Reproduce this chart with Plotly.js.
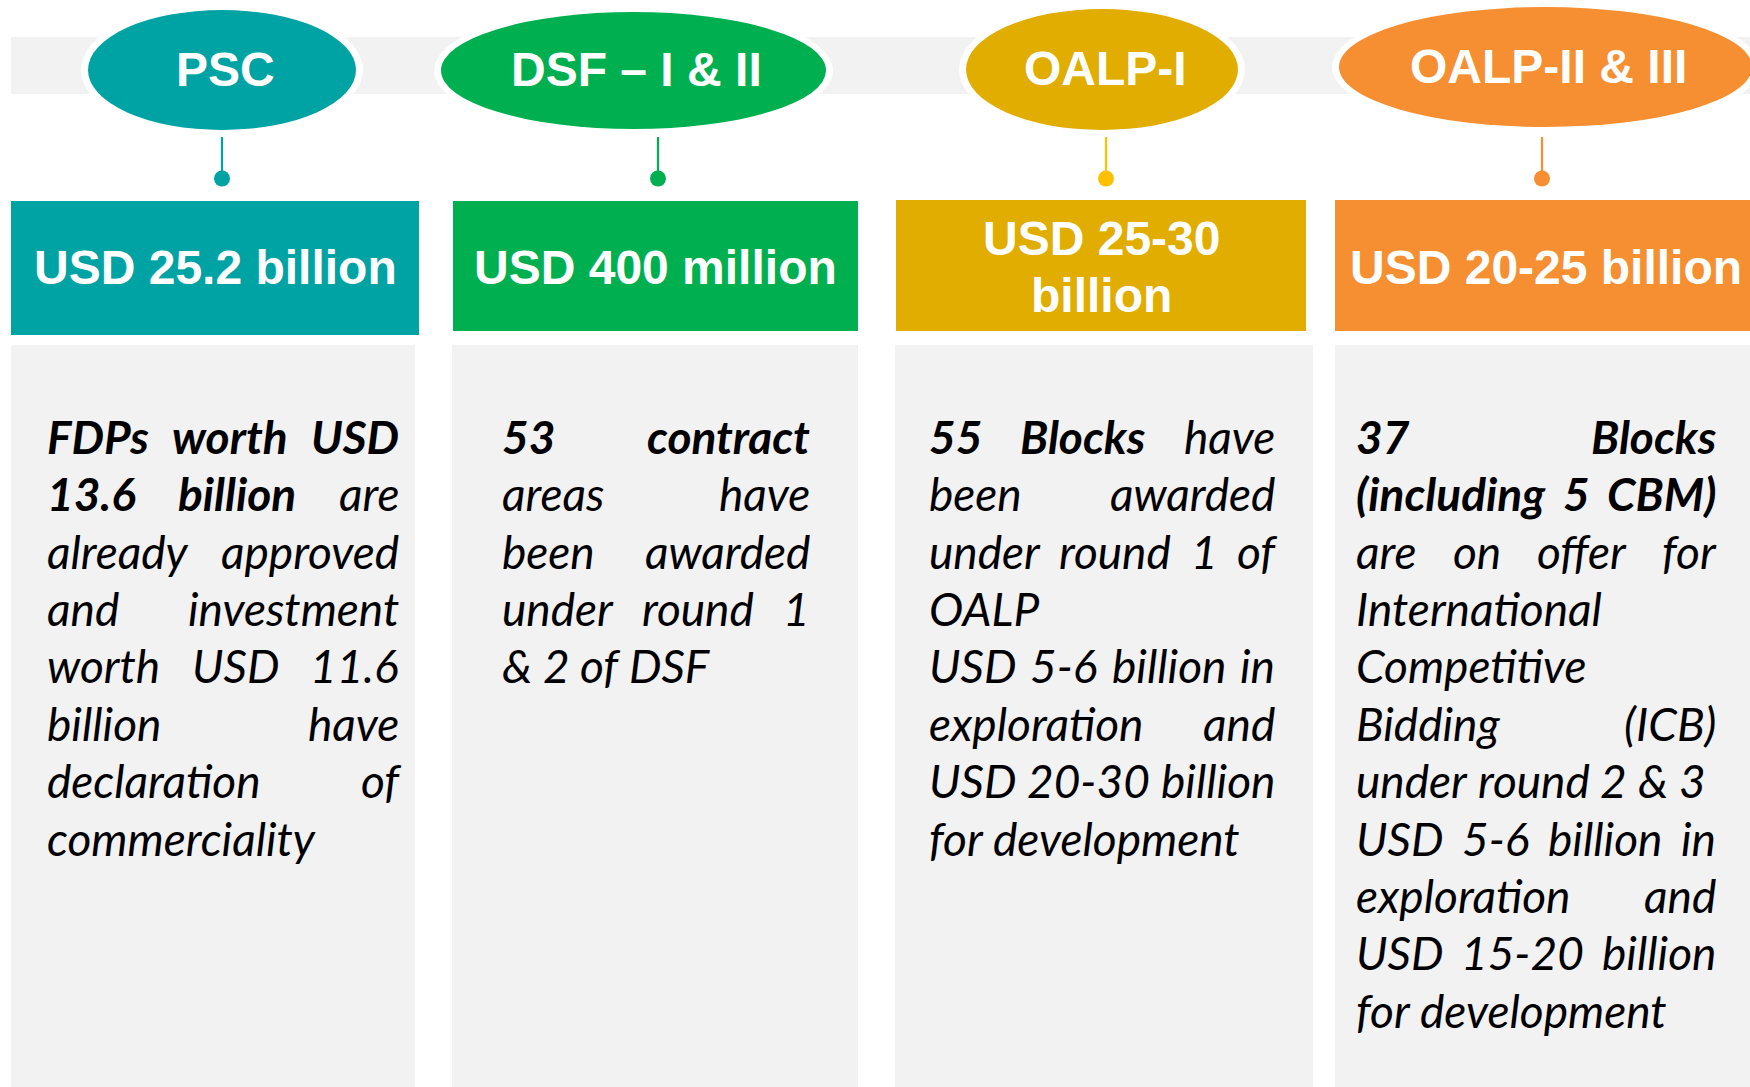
<!DOCTYPE html>
<html>
<head>
<meta charset="utf-8">
<script src="https://cdn.plot.ly/plotly-3.0.1.min.js"></script>
<style>html,body{margin:0;padding:0;background:#fff;}</style>
</head>
<body>
<div id="chart" style="width:1750px;height:1087px"></div>
<script>
// ---------- DATA ----------
const programs = ['PSC', 'DSF \u2013 I & II', 'OALP-I', 'OALP-II & III'];
const investments = ['USD 25.2 billion', 'USD 400 million', 'USD 25-30<br>billion', 'USD 20-25 billion'];

// descriptions: paragraphs -> lines (as set in the reference)
const pscLines = [[
  'FDPs worth USD', '13.6 billion are', 'already approved', 'and investment',
  'worth USD 11.6', 'billion have', 'declaration of', 'commerciality'
]];
const dsfLines = [[
  '53 contract', 'areas have', 'been awarded', 'under round 1', '& 2 of DSF'
]];
const oalp1Lines = [
  ['55 Blocks have', 'been awarded', 'under round 1 of', 'OALP'],
  ['USD 5-6 billion in', 'exploration and', 'USD 20-30 billion', 'for development']
];
const oalp23Lines = [
  ['37 Blocks', '(including 5 CBM)', 'are on offer for', 'International', 'Competitive', 'Bidding (ICB)', 'under round 2 & 3'],
  ['USD 5-6 billion in', 'exploration and', 'USD 15-20 billion', 'for development']
];
const boldLeadWords = [5, 2, 2, 5];   // number of leading words set in bold

// ---------- STYLE / LAYOUT ----------
const darkColors  = ['#00A3A4', '#00B050', '#E0AD00', '#F58F31'];
const dotColors   = ['#00A3A4', '#00B050', '#FFC000', '#F58F31'];
const ellipses = [[88, 356, 10, 130], [441, 826, 12, 129], [966, 1238, 9, 130], [1339, 1752, 7, 127]];
const stemX = [222, 658, 1106, 1542];
const boxes = [[11, 419, 201, 335], [453, 858, 201, 331], [896, 1306, 200, 331], [1335, 1750, 200, 331]];
const boxTextDx = [0, 0, 0, 3];
const panels = [[11, 415], [452, 858], [895, 1313], [1335, 1750]];
const textCols = [[46, 398], [501, 809], [928, 1274], [1355, 1715]];
const allLines = [pscLines, dsfLines, oalp1Lines, oalp23Lines];

const BODY_FONT = 'Lato';
const BODY_SIZE = 46;
const FIRST_BASE = 454;
const LINE_STEP = 57.4;
const HEAD_FONT = 'Liberation Sans, Arial, sans-serif';

const shapes = [];
const annotations = [];

// gray band behind the ellipses
shapes.push({type: 'rect', xref: 'x', yref: 'y', x0: 11, x1: 1760, y0: 37, y1: 94,
  fillcolor: '#F2F2F2', line: {width: 0}, layer: 'below'});

programs.forEach((p, i) => {
  const [ex0, ex1, ey0, ey1] = ellipses[i];
  const pad = 7;
  shapes.push({type: 'circle', xref: 'x', yref: 'y', x0: ex0 - pad, x1: ex1 + pad, y0: ey0 - pad, y1: ey1 + pad,
    fillcolor: '#FFFFFF', line: {width: 0}});
  shapes.push({type: 'circle', xref: 'x', yref: 'y', x0: ex0, x1: ex1, y0: ey0, y1: ey1,
    fillcolor: darkColors[i], line: {width: 0}});
  annotations.push({x: (ex0 + ex1) / 2 + 3, y: (ey0 + ey1) / 2 - 1, xref: 'x', yref: 'y', showarrow: false,
    text: '<b>' + p + '</b>', font: {family: HEAD_FONT, size: 48, color: '#FFFFFF'},
    xanchor: 'center', yanchor: 'middle', borderpad: 0});

  // stem + dot
  shapes.push({type: 'line', xref: 'x', yref: 'y', x0: stemX[i], x1: stemX[i], y0: 137, y1: 176,
    line: {color: dotColors[i], width: 2.2}});
  shapes.push({type: 'circle', xref: 'x', yref: 'y', x0: stemX[i] - 8, x1: stemX[i] + 8, y0: 170.5, y1: 186.5,
    fillcolor: dotColors[i], line: {width: 0}});

  // value box
  const [bx0, bx1, by0, by1] = boxes[i];
  shapes.push({type: 'rect', xref: 'x', yref: 'y', x0: bx0, x1: bx1, y0: by0, y1: by1,
    fillcolor: darkColors[i], line: {width: 0}});
  const parts = investments[i].split('<br>');
  parts.forEach((t, k) => {
    annotations.push({x: (bx0 + bx1) / 2 + boxTextDx[i], y: 267 + (k - (parts.length - 1) / 2) * 57,
      xref: 'x', yref: 'y', showarrow: false, text: '<b>' + t + '</b>',
      font: {family: HEAD_FONT, size: 48, color: '#FFFFFF'}, xanchor: 'center', yanchor: 'middle', borderpad: 0});
  });

  // description panel
  shapes.push({type: 'rect', xref: 'x', yref: 'y', x0: panels[i][0], x1: panels[i][1], y0: 345, y1: 1095,
    fillcolor: '#F2F2F2', line: {width: 0}, layer: 'below'});
});

// justified italic body text
const canvas = document.createElement('canvas');
const ctx = canvas.getContext('2d');
function measure(word, bold) {
  ctx.font = 'italic ' + (bold ? 'bold ' : '') + BODY_SIZE + 'px ' + BODY_FONT;
  return ctx.measureText(word).width;
}
const spaceW = measure(' ', false);
const minGap = 0.15 * BODY_SIZE;
const midOffset = 0.387 * BODY_SIZE;

allLines.forEach((paras, i) => {
  const [cx0, cx1] = textCols[i];
  const colW = cx1 - cx0;
  let wordIdx = 0;
  let lineNo = 0;
  paras.forEach(para => {
    para.forEach((line, li) => {
      const words = line.split(' ');
      const bolds = words.map((w, k) => wordIdx + k < boldLeadWords[i]);
      const widths = words.map((w, k) => measure(w, bolds[k]));
      const total = widths.reduce((a, b) => a + b, 0);
      const isLast = li === para.length - 1 || words.length === 1;
      const gap = isLast ? spaceW : Math.max(minGap, (colW - total) / (words.length - 1));
      let x = cx0;
      const y = FIRST_BASE + lineNo * LINE_STEP - midOffset;
      words.forEach((w, k) => {
        const txt = bolds[k] ? '<b><i>' + w + '</i></b>' : '<i>' + w + '</i>';
        annotations.push({x: x, y: y, xref: 'x', yref: 'y', showarrow: false, text: txt,
          font: {family: BODY_FONT, size: BODY_SIZE, color: '#000000'},
          xanchor: 'left', yanchor: 'middle', borderpad: 0});
        x += widths[k] + gap;
      });
      wordIdx += words.length;
      lineNo++;
    });
  });
});

const layout = {
  width: 1750, height: 1087,
  margin: {l: 0, r: 0, t: 0, b: 0},
  paper_bgcolor: '#FFFFFF', plot_bgcolor: '#FFFFFF',
  showlegend: false,
  xaxis: {range: [0, 1750], visible: false, fixedrange: true},
  yaxis: {range: [1087, 0], visible: false, fixedrange: true},
  shapes: shapes,
  annotations: annotations
};
const data = [{x: [0, 1750], y: [0, 1087], type: 'scatter', mode: 'markers',
  marker: {opacity: 0}, hoverinfo: 'skip'}];
Plotly.newPlot('chart', data, layout, {staticPlot: true, displayModeBar: false});
</script>
</body>
</html>
